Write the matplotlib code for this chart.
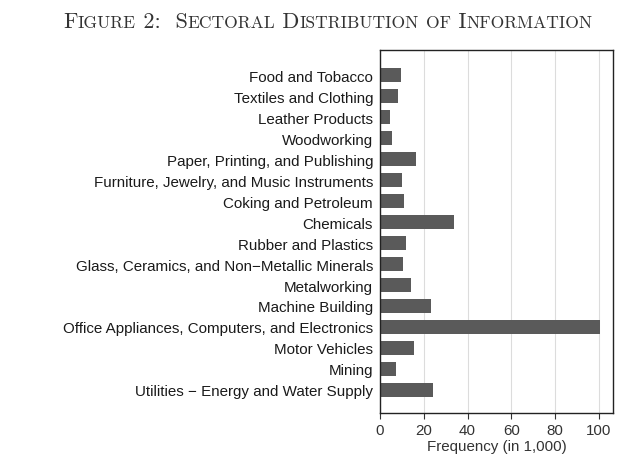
import matplotlib
matplotlib.use("Agg")
import matplotlib.pyplot as plt
from matplotlib.offsetbox import TextArea, HPacker, AnchoredOffsetbox

categories = [
    "Food and Tobacco",
    "Textiles and Clothing",
    "Leather Products",
    "Woodworking",
    "Paper, Printing, and Publishing",
    "Furniture, Jewelry, and Music Instruments",
    "Coking and Petroleum",
    "Chemicals",
    "Rubber and Plastics",
    "Glass, Ceramics, and Non\u2212Metallic Minerals",
    "Metalworking",
    "Machine Building",
    "Office Appliances, Computers, and Electronics",
    "Motor Vehicles",
    "Mining",
    "Utilities \u2212 Energy and Water Supply",
]
values = [9.6, 8.1, 4.6, 5.5, 16.5, 10.2, 11.0, 33.8, 11.8, 10.7, 14.1, 23.5, 100.5, 15.7, 7.5, 24.0]
xticks = [0, 20, 40, 60, 80, 100]

plt.rcParams['font.family'] = ['Liberation Sans', 'DejaVu Sans']

fig = plt.figure(figsize=(6.4, 4.64), dpi=100)
ax = fig.add_axes([380/640, 1 - 414/464, (613-380)/640, (414-51)/464])

ypos = list(range(len(categories)))
ax.barh(ypos, values, height=0.67, color="#5a5a5a", zorder=2)
ax.set_yticks(ypos)
ax.set_yticklabels(categories, fontsize=10.9, color="#1a1a1a")
ax.set_ylim(len(categories) - 1 + 1.1, -1.2)
ax.set_xlim(0, 106.5)
ax.set_xticks(xticks)
ax.set_xticklabels([str(t) for t in xticks], fontsize=10.9, color="#333333")
ax.tick_params(axis='y', length=0, pad=5)
ax.tick_params(axis='x', length=4, width=0.8, color="#333333", pad=3.5)
ax.xaxis.grid(True, color="#dcdcdc", linewidth=0.8, zorder=0)
ax.set_axisbelow(True)
for s in ax.spines.values():
    s.set_color("#222222")
    s.set_linewidth(1.0)
ax.set_xlabel("Frequency (in 1,000)", fontsize=10.9, color="#333333", labelpad=1.5)

# Title in small caps
big = 16
small = 12.6
pieces = [("F", big), ("IGURE", small), (" 2:  S", big), ("ECTORAL", small), (" D", big),
          ("ISTRIBUTION", small), (" ", big), ("OF", small), (" I", big), ("NFORMATION", small)]
areas = [TextArea(t, textprops=dict(fontsize=s, family="cmr10", color="#333333")) for t, s in pieces]
box = HPacker(children=areas, align="baseline", pad=0, sep=0)
anch = AnchoredOffsetbox(loc="center", child=box, frameon=False,
                         bbox_to_anchor=(328/640, 1 - 22/464), bbox_transform=fig.transFigure, pad=0, borderpad=0)
fig.add_artist(anch)

fig.savefig("out.png", dpi=100, facecolor="white")
